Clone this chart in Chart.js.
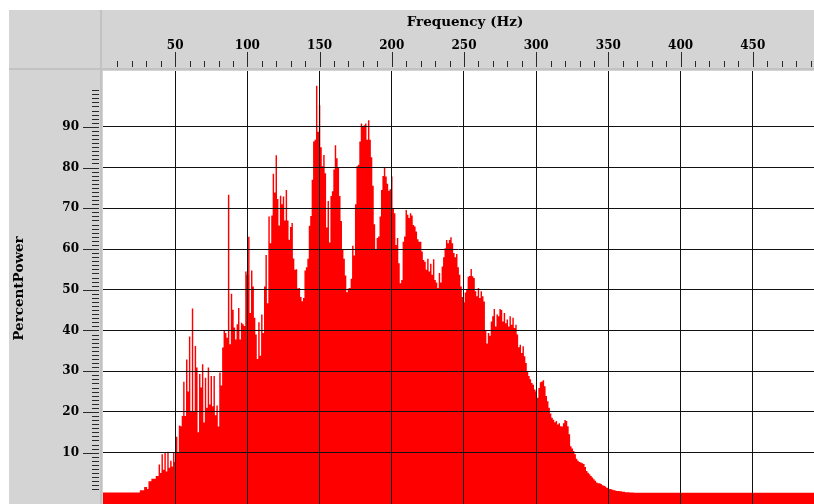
<!DOCTYPE html>
<html>
<head>
<meta charset="utf-8">
<script src="https://cdn.jsdelivr.net/npm/chart.js@4/dist/chart.umd.min.js"></script>
<style>
  html, body { margin: 0; padding: 0; background: #fff; }
  canvas { display: block; }
</style>
</head>
<body>
<canvas id="spectrum" width="814" height="504"></canvas>
<script>
const freqTicks = [50, 100, 150, 200, 250, 300, 350, 400, 450];
const powerTicks = [10, 20, 30, 40, 50, 60, 70, 80, 90];

// percent power, one value per 1 Hz bin starting at firstBinHz
const firstBinHz = 22;
const percentPower = [
  0.2, 0.2, 0.2, 0.2, 0.75, 0.75, 0.75, 1.6, 1.6, 1.1,
  3.0, 3.0, 3.6, 3.6, 3.6, 4.3, 4.3, 7.1, 5.0, 9.6,
  5.8, 10.0, 5.4, 10.2, 6.3, 8.0, 6.6, 10.0, 7.7, 13.9,
  10.0, 16.7, 16.5, 19.0, 27.4, 19.0, 32.9, 25.0, 38.5, 20.0,
  45.4, 20.0, 36.2, 30.9, 15.0, 29.3, 26.0, 31.7, 17.4, 28.4,
  21.0, 30.9, 21.8, 28.8, 21.4, 28.8, 19.2, 21.6, 16.4, 29.7,
  26.5, 35.8, 39.9, 39.4, 38.2, 73.3, 36.6, 49.0, 45.1, 40.7,
  37.8, 41.5, 45.5, 37.8, 41.9, 41.5, 41.1, 54.5, 53.6, 63.0,
  44.3, 54.7, 50.8, 43.1, 39.0, 33.0, 42.0, 33.8, 43.9, 39.4,
  50.8, 58.5, 46.7, 68.0, 61.4, 68.2, 78.5, 73.9, 83.0, 72.3,
  65.8, 73.1, 71.0, 72.9, 67.0, 74.5, 67.0, 62.3, 65.4, 66.4,
  57.7, 54.9, 55.0, 50.3, 50.4, 48.2, 47.2, 48.0, 54.7, 55.5,
  57.6, 65.7, 68.1, 77.0, 86.4, 86.8, 100.1, 88.8, 95.3, 85.0,
  80.3, 83.1, 78.6, 65.3, 71.8, 61.6, 73.0, 74.2, 79.5, 85.5,
  82.3, 80.0, 73.0, 66.9, 60.0, 57.6, 53.5, 49.4, 50.3, 50.4,
  52.7, 60.8, 58.4, 71.0, 80.3, 80.7, 86.4, 90.8, 90.0, 90.4,
  90.8, 86.8, 91.6, 86.8, 82.5, 75.5, 66.1, 60.0, 62.7, 63.1,
  68.0, 74.5, 77.9, 80.0, 77.8, 76.0, 74.3, 74.7, 77.8, 70.0,
  68.8, 61.0, 62.7, 56.5, 51.6, 52.4, 61.8, 63.1, 69.6, 68.4,
  67.6, 68.8, 68.2, 65.9, 65.5, 64.3, 62.4, 61.8, 61.8, 59.4,
  57.3, 56.9, 54.9, 57.6, 54.5, 56.4, 53.7, 57.5, 52.4, 51.8,
  50.4, 54.1, 51.8, 55.7, 58.0, 60.2, 62.2, 61.4, 62.2, 62.9,
  61.4, 59.0, 58.0, 58.8, 55.5, 53.7, 50.8, 48.2, 46.9, 49.3,
  50.0, 53.2, 53.4, 55.1, 53.3, 52.9, 49.6, 48.4, 50.4, 48.0,
  49.6, 48.4, 47.1, 40.0, 36.8, 39.4, 38.7, 42.2, 43.5, 45.3,
  41.0, 43.9, 43.5, 45.3, 45.0, 42.2, 44.3, 41.8, 42.7, 41.0,
  43.5, 41.4, 43.1, 40.6, 41.4, 39.0, 35.9, 36.5, 34.5, 36.1,
  33.7, 32.0, 30.0, 28.8, 28.0, 27.1, 26.7, 25.5, 25.0, 23.5,
  25.9, 27.3, 27.5, 27.8, 26.3, 23.9, 22.6, 21.0, 19.6, 18.6,
  18.1, 17.5, 17.8, 16.9, 17.2, 16.5, 16.4, 17.2, 18.0, 17.8,
  16.5, 14.5, 11.6, 11.0, 10.4, 9.6, 8.5, 8.0, 7.7, 7.6,
  7.4, 7.2, 6.5, 5.5, 5.1, 4.7, 4.3, 3.9, 3.5, 3.1,
  2.7, 2.5, 2.5, 2.3, 2.0, 1.9, 1.7, 1.4, 1.3, 1.1,
  1.0, 0.9, 0.8, 0.7, 0.6, 0.6, 0.5, 0.5, 0.4, 0.4,
  0.3, 0.3, 0.3, 0.2, 0.2, 0.2
];
// noise floor below the first bin and above the last one
const floorLow = 0.2;
const floorHigh = 0.15;

const FONT = "'DejaVu Serif', serif";
const PANEL = "#d4d4d4";
const SEPARATOR = "#c2c2c2";
const TICK_INK = "#2a2a2a";

const points = [{ x: 0, y: floorLow }];
percentPower.forEach((v, i) => points.push({ x: firstBinHz + i, y: v }));
const lastBin = firstBinHz + percentPower.length - 1;
points.push({ x: lastBin + 1, y: floorHigh });
points.push({ x: 500, y: floorHigh });

// gray axis panels behind the plot, tick marks and axis titles on top
const panels = {
  id: "panels",
  beforeDraw(chart) {
    const { ctx, chartArea: a } = chart;
    ctx.save();
    ctx.fillStyle = PANEL;
    ctx.fillRect(9, 10, chart.width - 9, chart.height - 10);
    ctx.fillStyle = SEPARATOR;
    ctx.fillRect(9, a.top - 3, chart.width - 9, 2);
    ctx.fillRect(a.left - 3, 10, 2, chart.height - 10);
    ctx.fillStyle = "#fff";
    ctx.fillRect(a.left, a.top, a.right - a.left, a.bottom - a.top);
    ctx.restore();
  },
  afterDraw(chart) {
    const { ctx, chartArea: a } = chart;
    const xs = chart.scales.x;
    const ys = chart.scales.y;
    ctx.save();
    ctx.strokeStyle = TICK_INK;
    ctx.lineWidth = 1;
    ctx.beginPath();
    for (let f = 10; f < xs.max; f += 10) {
      const px = Math.round(xs.getPixelForValue(f)) + 0.5;
      const major = freqTicks.includes(f);
      ctx.moveTo(px, major ? a.top - 19 : a.top - 10);
      ctx.lineTo(px, a.top - 4);
    }
    for (let v = 1; v < 100; v++) {
      const py = Math.round(ys.getPixelForValue(v)) + 0.5;
      const major = powerTicks.includes(v);
      ctx.moveTo(major ? a.left - 20 : a.left - 11, py);
      ctx.lineTo(a.left - 4, py);
    }
    ctx.stroke();

    ctx.fillStyle = "#000";
    ctx.font = "bold 13.5px " + FONT;
    ctx.textAlign = "center";
    ctx.textBaseline = "alphabetic";
    ctx.fillText("Frequency (Hz)", 465, 26);

    ctx.translate(23, (a.top + a.bottom) / 2 + 1);
    ctx.rotate(-Math.PI / 2);
    ctx.fillText("PercentPower", 0, 0);
    ctx.restore();
  }
};

new Chart(document.getElementById("spectrum"), {
  type: "line",
  data: {
    datasets: [{
      data: points,
      stepped: "middle",
      fill: "start",
      backgroundColor: "#ff0000",
      borderWidth: 0,
      pointRadius: 0
    }]
  },
  options: {
    responsive: false,
    animation: false,
    layout: { padding: 0 },
    plugins: { legend: { display: false }, tooltip: { enabled: false } },
    scales: {
      x: {
        type: "linear",
        position: "top",
        min: 0,
        max: 492.4,
        afterBuildTicks: (s) => { s.ticks = freqTicks.map((v) => ({ value: v })); },
        afterFit: (s) => { s.height = 71; s.paddingLeft = 0; s.paddingRight = 0; },
        border: { display: false },
        grid: { color: "#111", lineWidth: 1, z: 1, tickLength: 14, tickColor: "rgba(0,0,0,0)" },
        ticks: { color: "#000", font: { family: FONT, size: 12, weight: "bold" }, padding: 4, maxRotation: 0, autoSkip: false }
      },
      y: {
        type: "linear",
        position: "left",
        min: -2.6,
        max: 103.7,
        afterBuildTicks: (s) => { s.ticks = powerTicks.map((v) => ({ value: v })); },
        afterFit: (s) => { s.width = 103; s.paddingTop = 0; s.paddingBottom = 0; },
        border: { display: false },
        grid: { color: "#111", lineWidth: 1, z: 1, tickLength: 20, tickColor: "rgba(0,0,0,0)" },
        ticks: { color: "#000", font: { family: FONT, size: 12, weight: "bold" }, padding: 4 }
      }
    }
  },
  plugins: [panels]
});
</script>
</body>
</html>
